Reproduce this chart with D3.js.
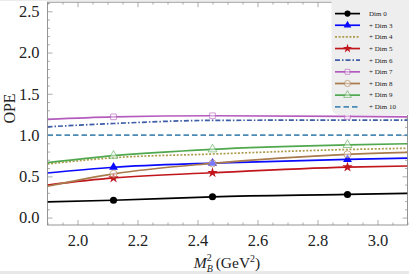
<!DOCTYPE html>
<html>
<head>
<meta charset="utf-8">
<script src="https://cdn.jsdelivr.net/npm/d3@7"></script>
<style>
  html, body { margin: 0; padding: 0; background: #fff; }
  svg { display: block; }
  text { font-family: "Liberation Serif", "DejaVu Serif", serif; fill: #222; }
</style>
</head>
<body>
<svg id="chart" width="409" height="274"></svg>
<script>
// ---------- data ----------
const xSamples = [1.9, 2.12, 2.45, 2.9, 3.1];
const markerX = [2.12, 2.45, 2.9];
const seriesNames = ["Dim 0", "+ Dim 3", "+ Dim 4", "+ Dim 5", "+ Dim 6", "+ Dim 7", "+ Dim 8", "+ Dim 9", "+ Dim 10"];
const dim0  = [0.190, 0.210, 0.252, 0.280, 0.293];
const dim3  = [0.540, 0.610, 0.660, 0.705, 0.720];
const dim4  = [0.650, 0.725, 0.770, 0.825, 0.840];
const dim5  = [0.395, 0.480, 0.543, 0.612, 0.625];
const dim6  = [1.100, 1.140, 1.178, 1.181, 1.180];
const dim7  = [1.190, 1.221, 1.234, 1.226, 1.220];
const dim8  = [0.380, 0.530, 0.657, 0.766, 0.790];
const dim9  = [0.665, 0.750, 0.827, 0.880, 0.895];
const dim10 = [1.000, 1.000, 1.000, 1.000, 1.000];
const seriesValues = [dim0, dim3, dim4, dim5, dim6, dim7, dim8, dim9, dim10];
const xTicks = [2.0, 2.2, 2.4, 2.6, 2.8, 3.0];
const yTicks = [0.0, 0.5, 1.0, 1.5, 2.0, 2.5];

(function () {
// ---------- styles ----------
const styles = [
  { color: "#000000", dash: null,          marker: "circle",   filled: true },
  { color: "#0a0aff", dash: null,          marker: "triangle", filled: true },
  { color: "#ad9c4c", dash: "2,1.6",       marker: null },
  { color: "#c0161c", dash: null,          marker: "star",     filled: true },
  { color: "#3d5ea6", dash: "5,2,1.5,2",   marker: null },
  { color: "#b45cbe", dash: null,          marker: "square",   filled: false },
  { color: "#a87a4c", dash: null,          marker: "circle",   filled: false },
  { color: "#50a84e", dash: null,          marker: "triangle", filled: false },
  { color: "#4a8ab4", dash: "5.5,3",       marker: null }
];
const symbolMap = {
  circle: d3.symbolCircle, triangle: d3.symbolTriangle,
  star: d3.symbolStar, square: d3.symbolSquare
};

const svg = d3.select("#chart");
const W = 409, H = 274;
const pLeft = 47.5, pRight = 407.5, pTop = 2.2, pBottom = 225;

const x = d3.scaleLinear().domain([1.9, 3.1]).range([pLeft, pRight]);
const y = d3.scaleLinear().domain([-0.09, 2.61]).range([pBottom, pTop]);

svg.append("rect").attr("x", 0).attr("y", 0).attr("width", W).attr("height", H).attr("fill", "#fff");
svg.append("rect").attr("x", 0).attr("y", 271).attr("width", W).attr("height", 3).attr("fill", "#e8e8e8");
svg.append("rect").attr("x", 0).attr("y", 0).attr("width", W).attr("height", 0.8).attr("fill", "#e8e8e8");

svg.append("clipPath").attr("id", "clip")
  .append("rect").attr("x", pLeft).attr("y", pTop).attr("width", pRight - pLeft).attr("height", pBottom - pTop);

// ---------- axes / frame ----------
const frameColor = "#8a8a8a";
const xMinor = d3.range(1.9, 3.1001, 0.05).filter(v => !xTicks.some(t => Math.abs(t - v) < 1e-6));
const yMinor = d3.range(0, 2.6001, 0.1).filter(v => !yTicks.some(t => Math.abs(t - v) < 1e-6));

const gBottom = svg.append("g").attr("transform", `translate(0,${pBottom})`)
  .call(d3.axisBottom(x).tickValues(xTicks).tickFormat(d3.format(".1f")).tickSizeInner(-5).tickSizeOuter(0).tickPadding(9));
const gBottomMinor = svg.append("g").attr("transform", `translate(0,${pBottom})`)
  .call(d3.axisBottom(x).tickValues(xMinor).tickFormat("").tickSizeInner(-2.5).tickSizeOuter(0));
const gTop = svg.append("g").attr("transform", `translate(0,${pTop})`)
  .call(d3.axisTop(x).tickValues(xTicks).tickFormat("").tickSizeInner(-5).tickSizeOuter(0));
const gTopMinor = svg.append("g").attr("transform", `translate(0,${pTop})`)
  .call(d3.axisTop(x).tickValues(xMinor).tickFormat("").tickSizeInner(-2.5).tickSizeOuter(0));
const gLeft = svg.append("g").attr("transform", `translate(${pLeft},0)`)
  .call(d3.axisLeft(y).tickValues(yTicks).tickFormat(d3.format(".1f")).tickSizeInner(-5).tickSizeOuter(0).tickPadding(8));
const gLeftMinor = svg.append("g").attr("transform", `translate(${pLeft},0)`)
  .call(d3.axisLeft(y).tickValues(yMinor).tickFormat("").tickSizeInner(-2.5).tickSizeOuter(0));
const gRight = svg.append("g").attr("transform", `translate(${pRight},0)`)
  .call(d3.axisRight(y).tickValues(yTicks).tickFormat("").tickSizeInner(-5).tickSizeOuter(0));
const gRightMinor = svg.append("g").attr("transform", `translate(${pRight},0)`)
  .call(d3.axisRight(y).tickValues(yMinor).tickFormat("").tickSizeInner(-2.5).tickSizeOuter(0));

[gBottom, gBottomMinor, gTop, gTopMinor, gLeft, gLeftMinor, gRight, gRightMinor].forEach(g => {
  g.select(".domain").remove();
  g.selectAll(".tick line").attr("stroke", frameColor).attr("stroke-width", 0.7);
  g.selectAll(".tick text").attr("font-family", "Liberation Serif, serif").attr("font-size", 16.5).attr("fill", "#222");
});

svg.append("rect").attr("x", pLeft).attr("y", pTop).attr("width", pRight - pLeft).attr("height", pBottom - pTop)
  .attr("fill", "none").attr("stroke", frameColor).attr("stroke-width", 0.9);

// ---------- series ----------
const plot = svg.append("g").attr("clip-path", "url(#clip)");
const line = d3.line().x(d => x(d[0])).y(d => y(d[1])).curve(d3.curveMonotoneX);

seriesValues.forEach((vals, i) => {
  const st = styles[i];
  const pts = xSamples.map((xv, j) => [xv, vals[j]]);
  plot.append("path").datum(pts).attr("d", line)
    .attr("fill", "none").attr("stroke", st.color).attr("stroke-width", 1.7)
    .attr("stroke-dasharray", st.dash);
});

const valueAt = (vals, xv) => vals[xSamples.indexOf(xv)];
function drawMarker(g, st, cx, cy, scale) {
  const sizeMap = { circle: 40, triangle: 34, star: 34, square: 32 };
  const sym = d3.symbol().type(symbolMap[st.marker]).size(sizeMap[st.marker] * scale);
  const p = g.append("path").attr("d", sym()).attr("transform", `translate(${cx},${cy})`);
  if (st.filled) {
    p.attr("fill", st.color).attr("stroke", "none");
  } else {
    p.attr("fill", "#ffffff").attr("fill-opacity", 0.45).attr("stroke", st.color)
      .attr("stroke-opacity", 0.6).attr("stroke-width", 1);
  }
}
seriesValues.forEach((vals, i) => {
  const st = styles[i];
  if (!st.marker) return;
  markerX.forEach(xv => drawMarker(plot, st, x(xv), y(valueAt(vals, xv)), 1));
});

// ---------- axis titles ----------
svg.append("text").attr("transform", `translate(15,108.5) rotate(-90)`)
  .attr("text-anchor", "middle").attr("font-size", 16).text("OPE");

const xt = svg.append("text").attr("x", 227).attr("y", 267.5).attr("text-anchor", "middle").attr("font-size", 15.5);
xt.append("tspan").attr("font-style", "italic").text("M");
xt.append("tspan").attr("font-style", "italic").attr("font-size", 10).attr("dy", 4).text("B");
xt.append("tspan").attr("font-size", 10).attr("dx", -6).attr("dy", -11).text("2");
xt.append("tspan").attr("dy", 7).text(" (GeV");
xt.append("tspan").attr("font-size", 10).attr("dy", -6).text("2");
xt.append("tspan").attr("dy", 6).text(")");

// ---------- legend ----------
const lg = svg.append("g");
lg.append("rect").attr("x", 331.5).attr("y", -8).attr("width", 90).attr("height", 123).attr("rx", 8)
  .attr("fill", "#eeeeee").attr("stroke", "none");
seriesNames.forEach((name, i) => {
  const st = styles[i];
  const cy = 13.6 + i * 11.65;
  lg.append("line").attr("x1", 335).attr("x2", 360).attr("y1", cy).attr("y2", cy)
    .attr("stroke", st.color).attr("stroke-width", 1.7).attr("stroke-dasharray", st.dash);
  if (st.marker) drawMarker(lg, st, 347.5, cy, 0.75);
  lg.append("text").attr("x", 369).attr("y", cy).attr("dy", "0.33em").attr("font-size", 7).text(name);
});
})();
</script>
</body>
</html>
